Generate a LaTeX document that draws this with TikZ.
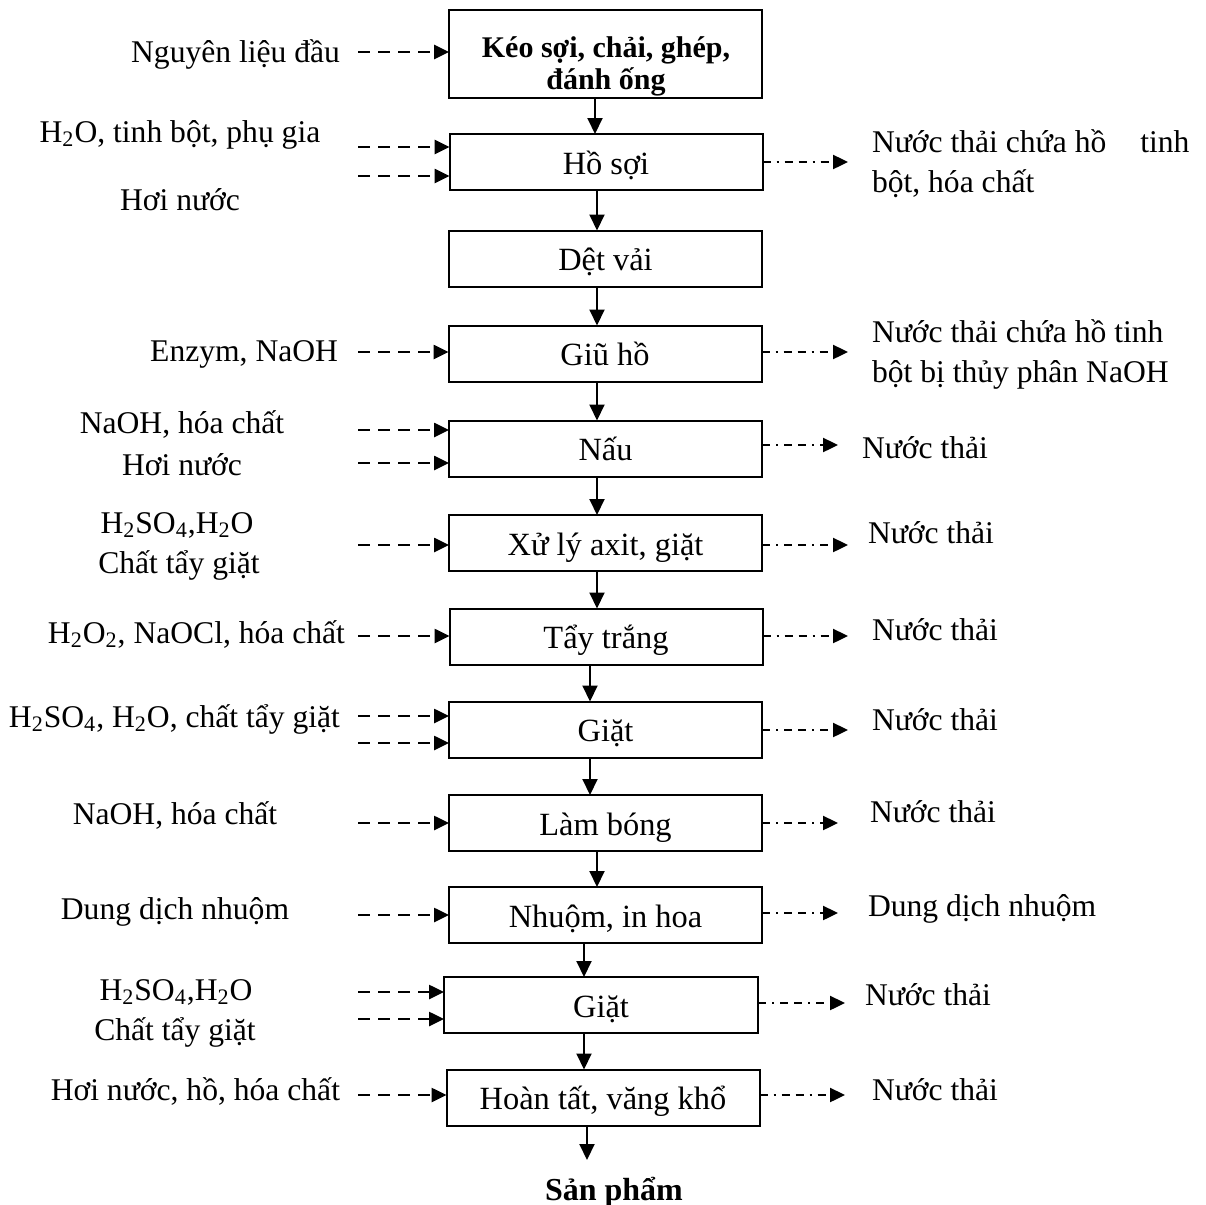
\documentclass[tikz,border=0pt]{standalone}
\usepackage{fontspec}
\setmainfont{Liberation Serif}
\usetikzlibrary{arrows.meta}
\newcommand{\sub}[1]{\textsubscript{#1}}
\begin{document}
\begin{tikzpicture}[x=0.5pt,y=-0.5pt,
  every node/.style={font=\fontsize{15.8}{19}\selectfont, inner sep=0pt, outer sep=0pt},
  box/.style={draw, line width=1pt, minimum width=156.5pt, minimum height=28pt,
    font=\fontsize{16.2}{19}\selectfont, text height=12pt, text depth=0pt},
  title/.style={font=\fontsize{15}{18}\selectfont\bfseries},
  flow/.style={line width=1pt, -{Triangle[length=8pt,width=7.5pt]}},
  feed/.style={line width=1.3pt, dash pattern=on 6pt off 4pt, -{Triangle[length=7.5pt,width=7pt]}},
  waste/.style={line width=1.2pt,
    dash pattern=on 4pt off 3pt on 1pt off 3pt on 4pt off 3pt on 4pt off 3pt on 1pt off 3pt on 4pt off 3pt,
    -{Triangle[length=7.5pt,width=7pt]}}
]
\useasboundingbox (0,0) rectangle (1206,1205);

% process steps
\node[box, minimum height=44pt, text height=0pt] (b1) at (605.5,54) {};
\node[title, anchor=base] (t1a) at (606,57) {Kéo sợi, chải, ghép,};
\node[title, anchor=base] (t1b) at (606,89) {đánh ống};
\node[box] (b2)  at (606,162)    {Hồ sợi};
\node[box] (b3)  at (605.5,258.5) {Dệt vải};
\node[box] (b4)  at (605,353.5)  {Giũ hồ};
\node[box] (b5)  at (605.5,448.5) {Nấu};
\node[box] (b6)  at (605.5,543)  {Xử lý axit, giặt};
\node[box] (b7)  at (606,636.5)  {Tẩy trắng};
\node[box] (b8)  at (605.5,729.5) {Giặt};
\node[box] (b9)  at (605.5,823)  {Làm bóng};
\node[box] (b10) at (605.5,915)  {Nhuộm, in hoa};
\node[box, minimum width=157pt] (b11) at (601,1005)   {Giặt};
\node[box] (b12) at (603,1097.5) {Hoàn tất, văng khổ};
\node[anchor=base, font=\fontsize{16}{19}\selectfont\bfseries] (prod) at (614,1200) {Sản phẩm};

% main flow
\coordinate (d1) at (595,0);
\coordinate (d2) at (597,0);
\coordinate (d7) at (590,0);
\coordinate (d10) at (584,0);
\coordinate (d12) at (587,1160);
\draw[flow] (b1.south -| d1) -- (b2.north -| d1);
\draw[flow] (b2.south -| d2) -- (b3.north -| d2);
\draw[flow] (b3.south -| d2) -- (b4.north -| d2);
\draw[flow] (b4.south -| d2) -- (b5.north -| d2);
\draw[flow] (b5.south -| d2) -- (b6.north -| d2);
\draw[flow] (b6.south -| d2) -- (b7.north -| d2);
\draw[flow] (b7.south -| d7) -- (b8.north -| d7);
\draw[flow] (b8.south -| d7) -- (b9.north -| d7);
\draw[flow] (b9.south -| d2) -- (b10.north -| d2);
\draw[flow] (b10.south -| d10) -- (b11.north -| d10);
\draw[flow] (b11.south -| d10) -- (b12.north -| d10);
\draw[flow] (b12.south -| d12) -- (d12);

% inputs
\node[anchor=base east] (l1) at (340,62) {Nguyên liệu đầu};
\node[anchor=base] (l2) at (180,142) {H\sub{2}O, tinh bột, phụ gia};
\node[anchor=base] (l3) at (180,210) {Hơi nước};
\node[anchor=base east] (l4) at (338,361) {Enzym, NaOH};
\node[anchor=base] (l5) at (182,433) {NaOH, hóa chất};
\node[anchor=base] (l6) at (182,475) {Hơi nước};
\node[anchor=base] (l7) at (177,533) {H\sub{2}SO\sub{4},H\sub{2}O};
\node[anchor=base] (l8) at (179,573) {Chất tẩy giặt};
\node[anchor=base east] (l9) at (345,643) {H\sub{2}O\sub{2}, NaOCl, hóa chất};
\node[anchor=base east] (l10) at (340,727) {H\sub{2}SO\sub{4}, H\sub{2}O, chất tẩy giặt};
\node[anchor=base] (l11) at (175,824) {NaOH, hóa chất};
\node[anchor=base] (l12) at (175,919) {Dung dịch nhuộm};
\node[anchor=base] (l13) at (176,1000) {H\sub{2}SO\sub{4},H\sub{2}O};
\node[anchor=base] (l14) at (175,1040) {Chất tẩy giặt};
\node[anchor=base east] (l15) at (340,1100) {Hơi nước, hồ, hóa chất};

\coordinate (f1) at (358,52);
\coordinate (f2a) at (358,147);
\coordinate (f2b) at (358,176);
\coordinate (f4) at (358,352);
\coordinate (f5a) at (358,430);
\coordinate (f5b) at (358,463);
\coordinate (f6) at (358,545);
\coordinate (f7) at (358,636);
\coordinate (f8a) at (358,716);
\coordinate (f8b) at (358,743);
\coordinate (f9) at (358,823);
\coordinate (f10) at (358,915);
\coordinate (f11a) at (358,992);
\coordinate (f11b) at (358,1019);
\coordinate (f12) at (358,1095);
\draw[feed] (f1) -- (f1 -| b1.west);
\draw[feed] (f2a) -- (f2a -| b2.west);
\draw[feed] (f2b) -- (f2b -| b2.west);
\draw[feed] (f4) -- (f4 -| b4.west);
\draw[feed] (f5a) -- (f5a -| b5.west);
\draw[feed] (f5b) -- (f5b -| b5.west);
\draw[feed] (f6) -- (f6 -| b6.west);
\draw[feed] (f7) -- (f7 -| b7.west);
\draw[feed] (f8a) -- (f8a -| b8.west);
\draw[feed] (f8b) -- (f8b -| b8.west);
\draw[feed] (f9) -- (f9 -| b9.west);
\draw[feed] (f10) -- (f10 -| b10.west);
\draw[feed] (f11a) -- (f11a -| b11.west);
\draw[feed] (f11b) -- (f11b -| b11.west);
\draw[feed] (f12) -- (f12 -| b12.west);

% outputs
\node[anchor=base west] (r1a) at (872,152) {Nước thải chứa hồ\hspace{13pt} tinh};
\node[anchor=base west] (r1b) at (872,192) {bột, hóa chất};
\node[anchor=base west] (r2a) at (872,342) {Nước thải chứa hồ tinh};
\node[anchor=base west] (r2b) at (872,382) {bột bị thủy phân NaOH};
\node[anchor=base west] (r3) at (862,458) {Nước thải};
\node[anchor=base west] (r4) at (868,543) {Nước thải};
\node[anchor=base west] (r5) at (872,640) {Nước thải};
\node[anchor=base west] (r6) at (872,730) {Nước thải};
\node[anchor=base west] (r7) at (870,822) {Nước thải};
\node[anchor=base west] (r8) at (868,916) {Dung dịch nhuộm};
\node[anchor=base west] (r9) at (865,1005) {Nước thải};
\node[anchor=base west] (r10) at (872,1100) {Nước thải};

\coordinate (w2) at (848,162);
\coordinate (w4) at (848,352);
\coordinate (w5) at (838,445);
\coordinate (w6) at (848,545);
\coordinate (w7) at (848,636);
\coordinate (w8) at (848,730);
\coordinate (w9) at (838,823);
\coordinate (w10) at (838,913);
\coordinate (w11) at (845,1003);
\coordinate (w12) at (845,1095);
\draw[waste] (w2 -| b2.east) -- (w2);
\draw[waste] (w4 -| b4.east) -- (w4);
\draw[waste] (w5 -| b5.east) -- (w5);
\draw[waste] (w6 -| b6.east) -- (w6);
\draw[waste] (w7 -| b7.east) -- (w7);
\draw[waste] (w8 -| b8.east) -- (w8);
\draw[waste] (w9 -| b9.east) -- (w9);
\draw[waste] (w10 -| b10.east) -- (w10);
\draw[waste] (w11 -| b11.east) -- (w11);
\draw[waste] (w12 -| b12.east) -- (w12);
\end{tikzpicture}
\end{document}
